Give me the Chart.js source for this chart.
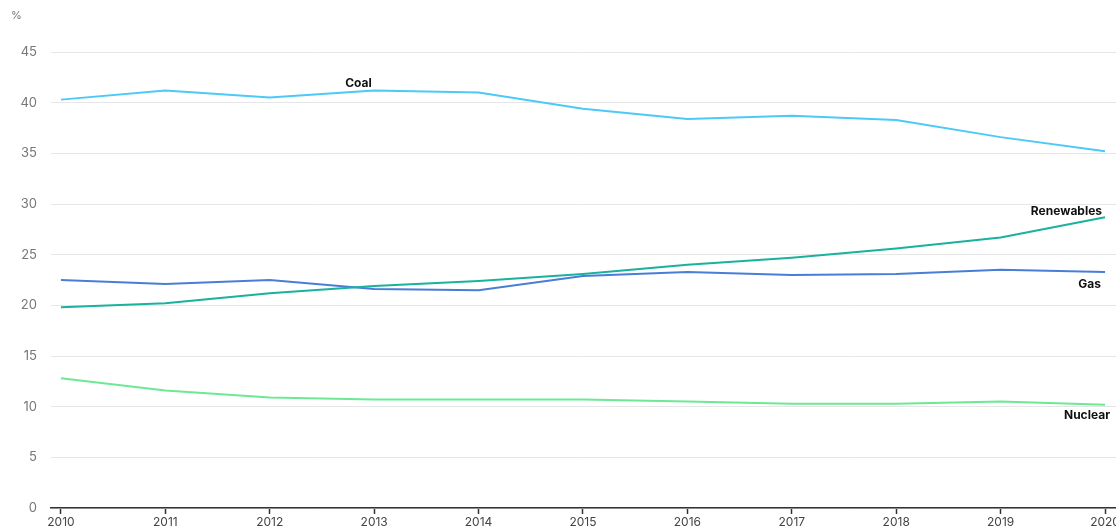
<!DOCTYPE html>
<html>
<head>
<meta charset="utf-8">
<script src="https://cdn.jsdelivr.net/npm/chart.js@4/dist/chart.umd.min.js"></script>
<style>
    html, body { margin: 0; padding: 0; background: #fff; }
    #wrap { width: 1116px; height: 528px; position: relative; }
</style>
</head>
<body>
<div id="wrap"><canvas id="mix-chart"></canvas></div>
<script>
// Share of generation by source, %
const years = [2010, 2011, 2012, 2013, 2014, 2015, 2016, 2017, 2018, 2019, 2020];
const coal = [40.3, 41.2, 40.5, 41.2, 41.0, 39.4, 38.4, 38.7, 38.3, 36.6, 35.2];
const renewables = [19.8, 20.2, 21.2, 21.9, 22.4, 23.1, 24.0, 24.7, 25.6, 26.7, 28.7];
const gas = [22.5, 22.1, 22.5, 21.6, 21.5, 22.9, 23.3, 23.0, 23.1, 23.5, 23.3];
const nuclear = [12.8, 11.6, 10.9, 10.7, 10.7, 10.7, 10.5, 10.3, 10.3, 10.5, 10.2];
const yTicks = [0, 5, 10, 15, 20, 25, 30, 35, 40, 45];

const FONT = 'Inter, "Noto Sans", sans-serif';

function toPoints(values) {
    return years.map((y, i) => ({ x: y, y: values[i] }));
}

// Series names written next to their lines
const lineLabels = {
    id: 'lineLabels',
    afterDatasetsDraw(chart) {
        const { ctx, scales: { x, y } } = chart;
        const last = years.length - 1;
        ctx.save();
        ctx.font = 'bold 12px ' + FONT;
        ctx.fillStyle = '#111';
        ctx.textBaseline = 'middle';

        ctx.textAlign = 'center';
        ctx.fillText('Coal', x.getPixelForValue(2012.85), y.getPixelForValue(coal[3]) - 7);

        ctx.textAlign = 'right';
        ctx.fillText('Renewables', x.getPixelForValue(years[last]) - 3, y.getPixelForValue(renewables[last]) - 6);
        ctx.fillText('Gas', x.getPixelForValue(years[last]) - 4, y.getPixelForValue(gas[last]) + 12);
        ctx.fillText('Nuclear', x.getPixelForValue(years[last]) + 5, y.getPixelForValue(nuclear[last]) + 11);

        // unit label
        ctx.textAlign = 'left';
        ctx.font = '11px ' + FONT;
        ctx.fillStyle = '#777';
        ctx.fillText('%', 11, 16);
        ctx.restore();
    }
};

function series(label, values, color) {
    return {
        label: label,
        data: toPoints(values),
        borderColor: color,
        backgroundColor: color,
        borderWidth: 2,
        pointRadius: 0,
        tension: 0
    };
}

new Chart(document.getElementById('mix-chart'), {
    type: 'line',
    data: {
        datasets: [
            series('Coal', coal, '#4cc9f7'),
            series('Renewables', renewables, '#1ab19f'),
            series('Gas', gas, '#4a7ed6'),
            series('Nuclear', nuclear, '#6de894')
        ]
    },
    options: {
        responsive: true,
        maintainAspectRatio: false,
        animation: false,
        layout: { padding: { top: 52, left: 0, right: 0, bottom: 0 } },
        plugins: {
            legend: { display: false },
            tooltip: { enabled: false }
        },
        scales: {
            x: {
                type: 'linear',
                min: 2009.905,
                max: 2020.105,
                afterBuildTicks(scale) {
                    scale.ticks = years.map(v => ({ value: v }));
                },
                afterFit(scale) {
                    scale.paddingLeft = 0;
                    scale.paddingRight = 0;
                    scale.height = 20;
                },
                grid: {
                    drawOnChartArea: false,
                    drawTicks: true,
                    tickLength: 6,
                    tickColor: '#333',
                    tickWidth: 1.5
                },
                border: { color: '#333', width: 1.5 },
                ticks: {
                    color: '#444',
                    padding: 1,
                    maxRotation: 0,
                    autoSkip: false,
                    font: { family: FONT, size: 12 },
                    callback: v => String(v)
                }
            },
            y: {
                min: 0,
                max: 45,
                afterBuildTicks(scale) {
                    scale.ticks = yTicks.map(v => ({ value: v }));
                },
                afterFit(scale) {
                    scale.width = 51;
                    scale.paddingTop = 0;
                    scale.paddingBottom = 0;
                },
                grid: { color: '#e6e6e6', lineWidth: 1, drawTicks: false },
                border: { display: false },
                ticks: {
                    color: '#777',
                    padding: 14,
                    font: { family: FONT, size: 13 }
                }
            }
        }
    },
    plugins: [lineLabels]
});
</script>
</body>
</html>
